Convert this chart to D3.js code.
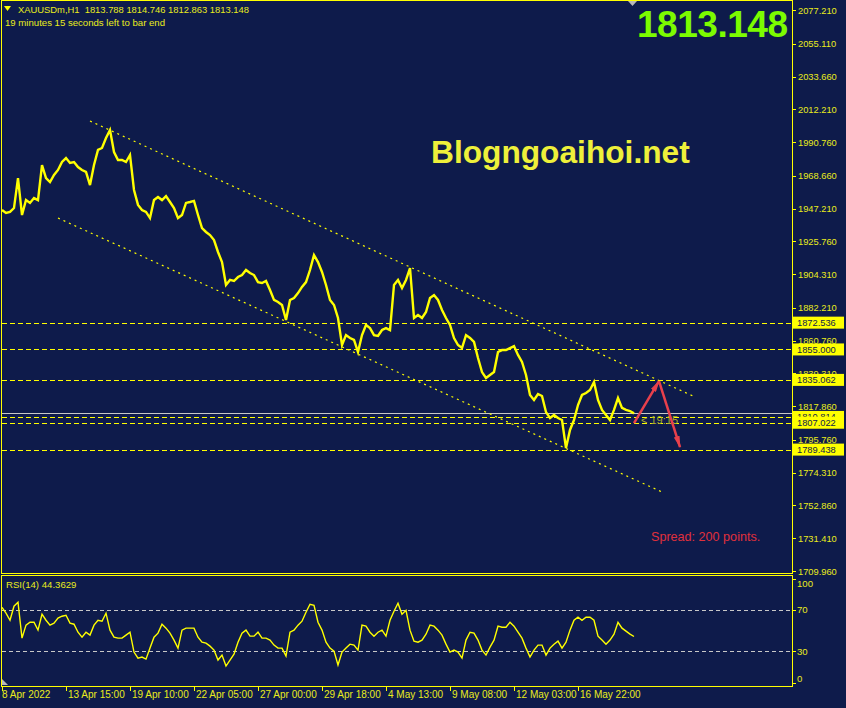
<!DOCTYPE html>
<html>
<head>
<meta charset="utf-8">
<script src="https://cdn.jsdelivr.net/npm/d3@7"></script>
<style>
  body { margin: 0; background: #0e1b4b; }
  svg { display: block; }
  text { font-family: "Liberation Sans", Arial, sans-serif; }
</style>
</head>
<body>
<div class="chart"></div>
<script>
const width = 846;
const height = 708;

// hourly closes, one value every 4 bars (XAUUSD H1)
const prices = [
  1946.3, 1944.3, 1945.0, 1947.6, 1967.2, 1943.0, 1952.8, 1950.9, 1954.1, 1952.8,
  1975.7, 1967.2, 1964.6, 1969.2, 1972.5, 1977.7, 1980.3, 1977.1, 1977.7, 1974.4,
  1972.5, 1971.2, 1962.6, 1975.7, 1985.6, 1986.9, 1993.4, 1998.6, 1984.2, 1979.0,
  1979.0, 1977.7, 1982.3, 1959.4, 1949.6, 1946.3, 1945.0, 1941.0, 1952.8, 1954.8,
  1952.8, 1955.4, 1951.5, 1947.6, 1941.0, 1943.0, 1950.9, 1951.5, 1952.2, 1943.0,
  1934.5, 1931.9, 1929.9, 1926.6, 1918.8, 1912.2, 1897.2, 1900.5, 1899.8, 1902.4,
  1903.7, 1907.0, 1905.0, 1903.7, 1899.1, 1898.5, 1899.8, 1893.9, 1887.4, 1886.1,
  1884.1, 1874.3, 1887.4, 1888.7, 1891.9, 1895.9, 1899.1, 1907.0, 1916.8, 1912.2,
  1905.7, 1897.2, 1887.4, 1884.1, 1875.6, 1857.9, 1864.4, 1862.5, 1861.2, 1853.3,
  1864.4, 1871.0, 1869.0, 1864.4, 1863.8, 1867.7, 1869.0, 1867.7, 1897.2, 1900.5,
  1895.2, 1900.5, 1908.3, 1875.6, 1877.5, 1875.6, 1879.5, 1888.7, 1890.6, 1887.4,
  1880.8, 1875.6, 1871.0, 1862.5, 1857.9, 1855.9, 1864.4, 1862.5, 1859.9, 1849.4,
  1840.2, 1836.3, 1838.3, 1840.2, 1853.3, 1854.6, 1854.6, 1855.9, 1857.2, 1851.4,
  1846.8, 1838.3, 1825.2, 1821.9, 1825.8, 1824.5, 1814.0, 1810.1, 1812.1, 1810.1,
  1808.8, 1790.5, 1802.3, 1808.8, 1818.6, 1825.2, 1826.5, 1828.4, 1833.7, 1821.9,
  1815.4, 1812.1, 1808.8, 1815.4, 1823.2, 1816.7, 1815.4, 1814.7, 1813.148
];

const rsi = [
  72.5, 66.8, 60.0, 73.5, 77.3, 42.8, 55.3, 58.1, 58.1, 50.5,
  65.8, 60.0, 55.3, 57.2, 62.0, 63.9, 64.8, 57.2, 56.2, 48.5,
  43.7, 48.5, 45.7, 55.3, 60.0, 59.1, 66.8, 50.5, 43.7, 42.8,
  42.8, 45.7, 48.5, 29.4, 23.6, 24.6, 22.6, 33.2, 43.7, 47.6,
  56.2, 52.4, 47.6, 40.9, 33.2, 50.5, 52.4, 52.4, 52.4, 43.7,
  38.9, 38.0, 35.1, 31.3, 21.7, 26.5, 15.9, 21.7, 27.4, 38.9,
  47.6, 50.5, 44.7, 44.7, 48.5, 42.8, 42.8, 40.9, 36.1, 33.2,
  33.2, 25.5, 48.5, 50.5, 55.3, 59.1, 67.7, 75.4, 74.4, 58.1,
  50.5, 38.9, 33.2, 30.3, 16.9, 29.4, 33.2, 37.0, 36.1, 31.3,
  55.3, 54.3, 48.5, 44.7, 48.5, 50.5, 44.7, 60.0, 68.7, 76.4,
  65.8, 69.6, 50.5, 39.9, 38.9, 40.9, 46.6, 55.3, 54.3, 50.5,
  45.7, 37.0, 29.4, 31.3, 29.4, 23.6, 40.9, 48.5, 47.6, 40.9,
  31.3, 26.5, 34.1, 40.9, 54.3, 53.3, 53.3, 58.1, 54.3, 48.5,
  42.8, 33.2, 24.6, 31.3, 36.1, 36.1, 26.5, 33.2, 37.0, 39.9,
  33.2, 38.9, 50.5, 60.0, 62.9, 60.0, 62.9, 62.9, 60.0, 44.7,
  40.9, 37.0, 40.9, 46.6, 58.1, 52.4, 49.5, 46.6, 44.3629
];

const priceTicks = [2077.210, 2055.110, 2033.660, 2012.210, 1990.760, 1968.660, 1947.210, 1925.760,
  1904.310, 1882.210, 1860.760, 1839.310, 1817.860, 1795.760, 1774.310, 1752.860, 1731.410, 1709.960];
const timeLabels = ["8 Apr 2022", "13 Apr 15:00", "19 Apr 10:00", "22 Apr 05:00", "27 Apr 00:00",
  "29 Apr 18:00", "4 May 13:00", "9 May 08:00", "12 May 03:00", "16 May 22:00"];
const rsiTicks = [100, 70, 30, 0];
const rsiLevels = [70, 30];

const levels = [1872.536, 1855.000, 1835.062, 1810.814, 1807.022, 1789.438];
const bid = 1813.148;
const ohlc = [1813.788, 1814.746, 1812.863, 1813.148];

// trend channel [barIndex, price]
const channelTop = [[22, 2004.5], [172.75, 1824.5]];
const channelBottom = [[14, 1941.0], [165, 1761.7]];
// projected move
const arrowPts = [[158, 1806.8], [164.25, 1834.3], [169.5, 1791.1]];

const yellow = "#ffff00";
const textCol = "#e9ec1c";

let svg = d3.select(".chart")
    .append("svg")
    .attr("width", width)
    .attr("height", height);

let defs = svg.append("defs");
defs.append("marker")
    .attr("id", "head")
    .attr("viewBox", "0 0 12 6")
    .attr("refX", 11).attr("refY", 3)
    .attr("markerWidth", 12).attr("markerHeight", 6)
    .attr("markerUnits", "userSpaceOnUse")
    .attr("orient", "auto")
    .append("path")
    .attr("d", "M0,0L12,3L0,6Z")
    .attr("fill", "#e8404c");

let x = d3.scaleLinear().domain([0, prices.length - 1]).range([2, 634]);
let y = d3.scaleLinear().domain([1709.96, 2077.21]).range([571, 10]);
let yR = d3.scaleLinear().domain([0, 100]).range([682.6, 578.7]);

// panel frames
svg.append("rect").attr("x", 1.5).attr("y", 0.5).attr("width", 791).attr("height", 573)
    .attr("fill", "none").attr("stroke", yellow);
svg.append("rect").attr("x", 1.5).attr("y", 575.5).attr("width", 791).attr("height", 111)
    .attr("fill", "none").attr("stroke", yellow);

// price axis
let pAxis = svg.append("g");
pAxis.selectAll("line").data(priceTicks).enter().append("line")
    .attr("x1", 792).attr("x2", 796)
    .attr("y1", d => Math.round(y(d)) + 0.5).attr("y2", d => Math.round(y(d)) + 0.5)
    .attr("stroke", yellow);
pAxis.selectAll("text").data(priceTicks).enter().append("text")
    .attr("x", 798).attr("y", d => y(d) + 3.5)
    .attr("font-size", 9.3).attr("fill", textCol)
    .text(d => d.toFixed(3));

// horizontal levels
svg.selectAll(".lvl").data(levels).enter().append("line")
    .attr("class", "lvl")
    .attr("x1", 2).attr("x2", 792)
    .attr("y1", d => Math.round(y(d)) + 0.5).attr("y2", d => Math.round(y(d)) + 0.5)
    .attr("stroke", yellow).attr("stroke-dasharray", "5,3");

// bid line
svg.append("line")
    .attr("x1", 2).attr("x2", 792)
    .attr("y1", Math.round(y(bid)) + 0.5).attr("y2", Math.round(y(bid)) + 0.5)
    .attr("stroke", "#c8c8c8");

// channel
[channelTop, channelBottom].forEach(c => {
    svg.append("line")
        .attr("x1", x(c[0][0])).attr("y1", y(c[0][1]))
        .attr("x2", x(c[1][0])).attr("y2", y(c[1][1]))
        .attr("stroke", yellow).attr("stroke-width", 1.2)
        .attr("stroke-dasharray", "2,4");
});

// price line
let line = d3.line().x((d, i) => x(i)).y(d => y(d));
svg.append("path")
    .datum(prices)
    .attr("d", line)
    .attr("fill", "none")
    .attr("stroke", yellow)
    .attr("stroke-width", 2.4)
    .attr("stroke-linejoin", "miter");

// level labels on axis
let lab = svg.append("g");
levels.forEach(v => {
    let yy = y(v);
    lab.append("line").attr("x1", 787).attr("x2", 791)
        .attr("y1", Math.round(yy) + 0.5).attr("y2", Math.round(yy) + 0.5).attr("stroke", yellow);
    lab.append("rect").attr("x", 793).attr("y", yy - 6).attr("width", 51).attr("height", 12)
        .attr("fill", yellow);
    lab.append("text").attr("x", 797).attr("y", yy + 3.5)
        .attr("font-size", 9.3).attr("fill", "#0e1b4b")
        .text(v.toFixed(3));
});

// countdown near price
svg.append("text").attr("x", 641).attr("y", 424)
    .attr("font-size", 11).attr("fill", "#a8ac2c")
    .text("< 19:15");

// arrows
for (let i = 0; i < arrowPts.length - 1; i++) {
    svg.append("line")
        .attr("x1", x(arrowPts[i][0])).attr("y1", y(arrowPts[i][1]))
        .attr("x2", x(arrowPts[i + 1][0])).attr("y2", y(arrowPts[i + 1][1]))
        .attr("stroke", "#e8404c").attr("stroke-width", 2.5)
        .attr("marker-end", "url(#head)");
}

// header
svg.append("path").attr("d", "M4,6L11,6L7.5,11Z").attr("fill", yellow);
svg.append("text").attr("x", 18).attr("y", 13)
    .attr("font-size", 9.4).attr("fill", textCol)
    .attr("xml:space", "preserve")
    .text("XAUUSDm,H1  " + ohlc.map(d => d.toFixed(3)).join(" "));
svg.append("text").attr("x", 5).attr("y", 26)
    .attr("font-size", 9.6).attr("fill", textCol)
    .text("19 minutes 15 seconds left to bar end");

// shift marker
svg.append("path").attr("d", "M628,1L637,1L632.5,6Z").attr("fill", "#b8b8b8");

svg.append("text").attr("x", 637).attr("y", 37)
    .attr("font-size", 37).attr("font-weight", "bold").attr("fill", "#7cfc00")
    .attr("textLength", 151)
    .text(bid.toFixed(3));

svg.append("text").attr("x", 431).attr("y", 163)
    .attr("font-size", 31.7).attr("font-weight", "bold").attr("fill", "#eef03a")
    .text("Blogngoaihoi.net");

svg.append("text").attr("x", 651).attr("y", 541)
    .attr("font-size", 12.6).attr("fill", "#e0303c")
    .text("Spread: 200 points.");

// RSI panel
svg.selectAll(".rl").data(rsiLevels).enter().append("line")
    .attr("class", "rl")
    .attr("x1", 2).attr("x2", 792)
    .attr("y1", d => Math.round(yR(d)) + 0.5).attr("y2", d => Math.round(yR(d)) + 0.5)
    .attr("stroke", "#c8c8c8").attr("stroke-dasharray", "4,3");

let xR = d3.scaleLinear().domain([0, rsi.length - 1]).range([2, 634]);
let rsiLine = d3.line().x((d, i) => xR(i)).y(d => yR(d));
svg.append("path")
    .datum(rsi)
    .attr("d", rsiLine)
    .attr("fill", "none")
    .attr("stroke", yellow)
    .attr("stroke-width", 1.4);

svg.append("text").attr("x", 6).attr("y", 588)
    .attr("font-size", 9.6).attr("fill", textCol)
    .text("RSI(14) " + rsi[rsi.length - 1].toFixed(4));

let rAxis = svg.append("g");
rAxis.selectAll("line").data(rsiTicks).enter().append("line")
    .attr("x1", 792).attr("x2", 796)
    .attr("y1", d => Math.round(yR(d)) + 0.5).attr("y2", d => Math.round(yR(d)) + 0.5)
    .attr("stroke", yellow);
rAxis.selectAll("text").data(rsiTicks).enter().append("text")
    .attr("x", 797).attr("y", d => Math.min(Math.max(yR(d), 583), 678) + 3.5)
    .attr("font-size", 9.6).attr("fill", textCol)
    .text(d => d);

// time axis
let tAxis = svg.append("g");
tAxis.selectAll("line").data(timeLabels).enter().append("line")
    .attr("x1", (d, i) => Math.round(x(i * 16)) + 0.5).attr("x2", (d, i) => Math.round(x(i * 16)) + 0.5)
    .attr("y1", 686).attr("y2", 691)
    .attr("stroke", yellow);
tAxis.selectAll("text").data(timeLabels).enter().append("text")
    .attr("x", (d, i) => x(i * 16) + (i === 0 ? 0 : 2))
    .attr("y", 698)
    .attr("font-size", 10).attr("fill", textCol)
    .text(d => d);

svg.append("path").attr("d", "M2,679L8,685L2,685Z").attr("fill", "#b8b8b8");
</script>
</body>
</html>
